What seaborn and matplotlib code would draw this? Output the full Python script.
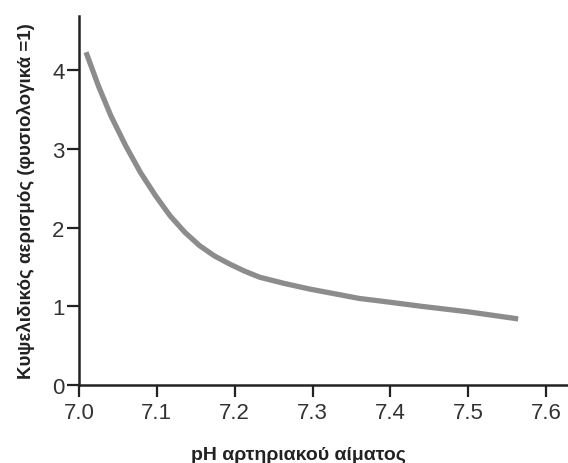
import matplotlib
matplotlib.use("Agg")
import matplotlib.pyplot as plt
import seaborn as sns
import pandas as pd

# Arterial blood pH vs. alveolar ventilation (normal = 1)
ph_values = [7.009, 7.025, 7.041, 7.060, 7.079, 7.098, 7.117, 7.136, 7.155, 7.174,
             7.193, 7.212, 7.232, 7.264, 7.296, 7.328, 7.360, 7.385, 7.44, 7.50, 7.564]
ventilation = [4.23, 3.80, 3.42, 3.04, 2.70, 2.41, 2.15, 1.94, 1.77, 1.64,
               1.54, 1.45, 1.37, 1.29, 1.22, 1.16, 1.10, 1.07, 1.00, 0.93, 0.84]

x_ticks = [7.0, 7.1, 7.2, 7.3, 7.4, 7.5, 7.6]
x_tick_labels = ["7.0", "7.1", "7.2", "7.3", "7.4", "7.5", "7.6"]
y_ticks = [0, 1, 2, 3, 4]

x_label = "pH αρτηριακού αίματος"
y_label = "Κυψελιδικός αερισμός (φυσιολογικά =1)"

df = pd.DataFrame({"ph": ph_values, "vent": ventilation})

sns.set_style("ticks")
plt.rcParams["font.family"] = ["Liberation Sans", "DejaVu Sans"]

fig = plt.figure(figsize=(5.68, 4.64), dpi=100)
ax = fig.add_axes([79 / 568, 1 - 386 / 464, 1 - 79 / 568, (386 - 17) / 464])

sns.lineplot(data=df, x="ph", y="vent", ax=ax, color="#8c8c8c",
             linewidth=3.8, solid_capstyle="butt")

ax.set_xlim(7.0, 7.628)
ax.set_ylim(0, 4.69)
ax.set_xticks(x_ticks)
ax.set_xticklabels(x_tick_labels)
ax.set_yticks(y_ticks)

for side in ("top", "right"):
    ax.spines[side].set_visible(False)
for side in ("left", "bottom"):
    ax.spines[side].set_linewidth(1.8)
    ax.spines[side].set_color("#222222")

ax.tick_params(axis="both", direction="out", length=8.5, width=1.6,
               color="#222222", labelsize=16, labelcolor="#333333")
ax.tick_params(axis="x", pad=4)
ax.tick_params(axis="y", pad=2)

ax.set_xlabel(x_label, fontsize=14, fontweight="bold", color="#222222", labelpad=16)
ax.set_ylabel(y_label, fontsize=13.5, fontweight="bold", color="#222222", labelpad=12)
# centre the x-axis title under the labelled pH range rather than the full axis
ax.xaxis.label.set_x(0.448)

fig.savefig("out.png", dpi=100)
